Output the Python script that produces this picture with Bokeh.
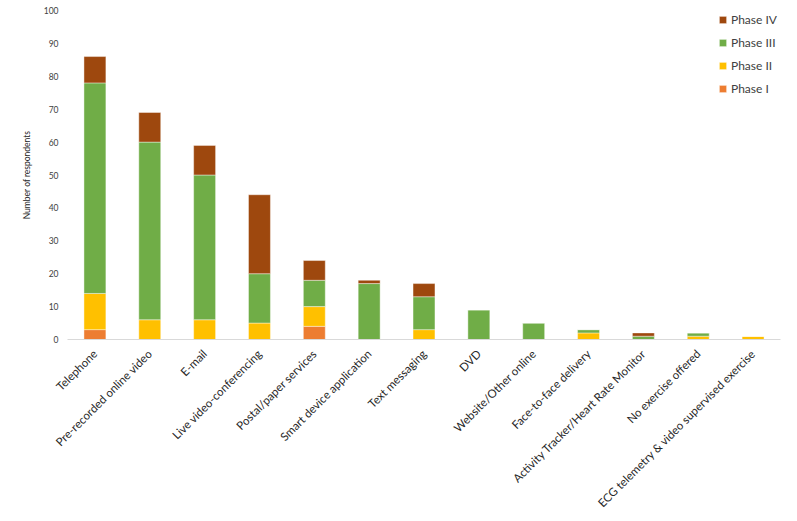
from math import pi
from bokeh.plotting import figure
from bokeh.models import ColumnDataSource, Range1d, Legend, LegendItem
from bokeh.embed import file_html
from bokeh.resources import INLINE

categories = ["Telephone", "Pre-recorded online video", "E-mail", "Live video-conferencing",
              "Postal/paper services", "Smart device application", "Text messaging", "DVD",
              "Website/Other online", "Face-to-face delivery", "Activity Tracker/Heart Rate Monitor",
              "No exercise offered", "ECG telemetry & video supervised exercise"]
phase_1 = [3, 0, 0, 0, 4, 0, 0, 0, 0, 0, 0, 0, 0]
phase_2 = [11, 6, 6, 5, 6, 0, 3, 0, 0, 2, 0, 1, 1]
phase_3 = [64, 54, 44, 15, 8, 17, 10, 9, 5, 1, 1, 1, 0]
phase_4 = [8, 9, 9, 24, 6, 1, 4, 0, 0, 0, 1, 0, 0]
y_ticks = list(range(0, 101, 10))

series = ["Phase I", "Phase II", "Phase III", "Phase IV"]
colors = ["#ED7D31", "#FFC000", "#70AD47", "#9E480E"]

source = ColumnDataSource(dict(cat=categories, **{"Phase I": phase_1, "Phase II": phase_2,
                                                   "Phase III": phase_3, "Phase IV": phase_4}))

p = figure(x_range=categories, y_range=Range1d(0, 100), width=790, height=516,
           output_backend="svg", toolbar_location=None,
           min_border_left=67, min_border_right=10, min_border_top=10, min_border_bottom=176)
p.outline_line_color = None
p.xgrid.grid_line_color = None
p.ygrid.grid_line_color = None

renderers = p.vbar_stack(series, x="cat", width=0.4, source=source, color=colors,
                         line_color="white", line_width=0.6, line_alpha=0.7)

p.x_range.range_padding = 0
p.xaxis.axis_line_color = "#D9D9D9"
p.xaxis.major_tick_line_color = None
p.xaxis.major_tick_out = 0
p.xaxis.major_tick_in = 0
p.xaxis.minor_tick_line_color = None
p.xaxis.major_label_orientation = pi / 4
p.xaxis.major_label_text_font = "Lato"
p.xaxis.major_label_text_font_size = "11.5px"
p.xaxis.major_label_text_color = "#262626"
p.xaxis.major_label_standoff = 12

p.yaxis.ticker = y_ticks
p.yaxis.axis_line_color = None
p.yaxis.major_tick_line_color = None
p.yaxis.major_tick_out = 0
p.yaxis.major_tick_in = 0
p.yaxis.minor_tick_line_color = None
p.yaxis.major_label_text_font = "Lato"
p.yaxis.major_label_text_font_size = "8.5px"
p.yaxis.major_label_text_color = "#404040"
p.yaxis.major_label_standoff = 9
p.yaxis.axis_label = "Number of respondents"
p.yaxis.axis_label_text_font = "Lato"
p.yaxis.axis_label_text_font_size = "8.5px"
p.yaxis.axis_label_text_font_style = "normal"
p.yaxis.axis_label_text_color = "#262626"
p.yaxis.axis_label_standoff = 9

items = [LegendItem(label=s, renderers=[r]) for s, r in zip(series, renderers)][::-1]
legend = Legend(items=items, location=(651, 243), padding=0, margin=0,
                spacing=8, label_height=15, glyph_height=9, glyph_width=9,
                label_standoff=4, border_line_color=None, background_fill_alpha=0,
                label_text_font="Lato", label_text_font_size="12px",
                label_text_color="#404040")
p.add_layout(legend)

open("out.html", "w").write(file_html(p, INLINE))
